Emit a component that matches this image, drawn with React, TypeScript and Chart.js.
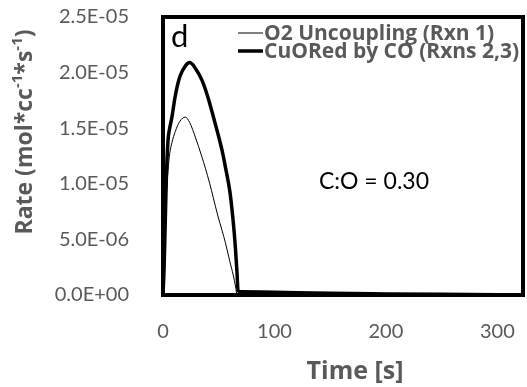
import React, { useEffect, useRef } from "react";
import { Chart, registerables } from "chart.js";

Chart.register(...registerables);

const timeS = [0, 1, 2, 3, 4.5, 6, 8, 11, 15, 20, 24, 29, 35, 38, 42, 45, 49, 53, 56, 60, 63, 65, 66.4, 67.3, 70, 100, 150, 200, 250, 300, 323];
const o2Uncoupling = [0, 3.5e-6, 6.5e-6, 9.0e-6, 1.12e-5, 1.27e-5, 1.37e-5, 1.47e-5, 1.56e-5, 1.6e-5, 1.55e-5, 1.42e-5, 1.24e-5, 1.14e-5, 1.0e-5, 8.8e-6, 7.2e-6, 5.8e-6, 4.7e-6, 3.0e-6, 1.8e-6, 0.8e-6, 0.05e-6, 0, 0, 0, 0, 0, 0, 0, 0];
const cuoRedByCO = [0, 2.5e-6, 6.5e-6, 1.05e-5, 1.39e-5, 1.5e-5, 1.6e-5, 1.79e-5, 1.96e-5, 2.06e-5, 2.09e-5, 2.04e-5, 1.93e-5, 1.85e-5, 1.72e-5, 1.61e-5, 1.46e-5, 1.3e-5, 1.15e-5, 9.3e-6, 6.6e-6, 4.2e-6, 2.0e-6, 0.4e-6, 3e-7, 2.5e-7, 1.5e-7, 1.0e-7, 0.6e-7, 0.3e-7, 0.2e-7];
const seriesLabels = ["O2 Uncoupling (Rxn 1)", "CuORed by CO (Rxns 2,3)"];
const panelLabel = "d";
const ratioLabel = "C:O = 0.30";
const xTitle = "Time [s]";
const yTitleParts: [string, boolean][] = [["Rate (mol*cc", false], ["-1", true], ["*s", false], ["-1", true], [")", false]];

const FONT = "Lato, 'Open Sans', sans-serif";
const BOLD_FONT = "'Open Sans', Lato, sans-serif";
const GRAY = "#595959";

function fmtExp(v: number): string {
  if (Math.abs(v) < 1e-12) return "0.0E+00";
  const [m, e] = v.toExponential(1).split("e");
  const ex = parseInt(e, 10);
  return m + "E" + (ex < 0 ? "-" : "+") + String(Math.abs(ex)).padStart(2, "0");
}

const overlay = {
  id: "overlay",
  afterDatasetsDraw(chart: any) {
    const { ctx, chartArea } = chart;
    const { left, top, right, bottom } = chartArea;
    ctx.save();
    ctx.strokeStyle = "#000";
    ctx.lineWidth = 4;
    ctx.strokeRect(left, top, right - left, bottom - top);

    const ys = [33, 51];
    chart.data.datasets.forEach((ds: any, i: number) => {
      ctx.beginPath();
      ctx.strokeStyle = "#000";
      ctx.lineWidth = ds.borderWidth;
      ctx.moveTo(238, ys[i]);
      ctx.lineTo(263, ys[i]);
      ctx.stroke();
      ctx.fillStyle = GRAY;
      ctx.font = `bold 21px ${BOLD_FONT}`;
      ctx.textAlign = "left";
      ctx.textBaseline = "middle";
      ctx.fillText(ds.label, 264, ys[i] + 1);
    });

    ctx.fillStyle = "#000";
    ctx.font = `31px ${FONT}`;
    ctx.textAlign = "left";
    ctx.textBaseline = "alphabetic";
    ctx.fillText(panelLabel, 171, 47);

    ctx.font = `23px ${FONT}`;
    ctx.textAlign = "center";
    ctx.textBaseline = "middle";
    ctx.fillText(ratioLabel, 374, 182);

    // x title
    ctx.fillStyle = GRAY;
    ctx.font = `bold 25px ${BOLD_FONT}`;
    ctx.textAlign = "center";
    ctx.textBaseline = "middle";
    ctx.fillText(xTitle, 355, 372);

    // y title with superscripts
    const base = 23;
    const supSize = 15;
    const widths = yTitleParts.map(([t, sup]) => {
      ctx.font = `bold ${sup ? supSize : base}px ${BOLD_FONT}`;
      return ctx.measureText(t).width;
    });
    const total = widths.reduce((a, b) => a + b, 0);
    ctx.translate(25, 132);
    ctx.rotate(-Math.PI / 2);
    let x = -total / 2;
    ctx.textAlign = "left";
    ctx.textBaseline = "middle";
    yTitleParts.forEach(([t, sup], i) => {
      ctx.font = `bold ${sup ? supSize : base}px ${BOLD_FONT}`;
      ctx.fillText(t, x, sup ? -7 : 0);
      x += widths[i];
    });
    ctx.restore();
  },
};

export default function App() {
  const ref = useRef<HTMLCanvasElement>(null);
  useEffect(() => {
    document.body.style.margin = "0";
    const chart = new Chart(ref.current!, {
      type: "line",
      data: {
        datasets: [
          {
            label: seriesLabels[0],
            data: timeS.map((t, i) => ({ x: t, y: o2Uncoupling[i] })),
            borderColor: "#000",
            borderWidth: 1,
            pointRadius: 0,
            cubicInterpolationMode: "monotone",
          },
          {
            label: seriesLabels[1],
            data: timeS.map((t, i) => ({ x: t, y: cuoRedByCO[i] })),
            borderColor: "#000",
            borderWidth: 3.5,
            pointRadius: 0,
            cubicInterpolationMode: "monotone",
          },
        ],
      },
      options: {
        animation: false,
        responsive: false,
        layout: { padding: { top: 17, right: 4, bottom: 0, left: 0 } },
        plugins: { legend: { display: false }, tooltip: { enabled: false } },
        scales: {
          x: {
            type: "linear",
            min: 0,
            max: 323,
            grid: { display: false },
            border: { display: false },
            ticks: {
              stepSize: 100,
              includeBounds: false,
              padding: 17,
              color: GRAY,
              font: { family: FONT, size: 20 },
              maxRotation: 0,
            },
            title: { display: false, text: xTitle },
            afterFit: (s: any) => {
              s.height = 92;
              s.paddingLeft = 0;
              s.paddingRight = 0;
            },
          },
          y: {
            type: "linear",
            min: 0,
            max: 2.5e-5,
            grid: { display: false },
            border: { display: false },
            ticks: {
              stepSize: 5e-6,
              padding: 26,
              color: GRAY,
              font: { family: FONT, size: 20 },
              callback: (v: any) => fmtExp(Number(v)),
            },
            afterFit: (s: any) => {
              s.width = 163;
              s.paddingTop = 0;
              s.paddingBottom = 0;
            },
          },
        },
      },
      plugins: [overlay],
    } as any);
    return () => chart.destroy();
  }, []);
  return <canvas ref={ref} width={527} height={387} />;
}
